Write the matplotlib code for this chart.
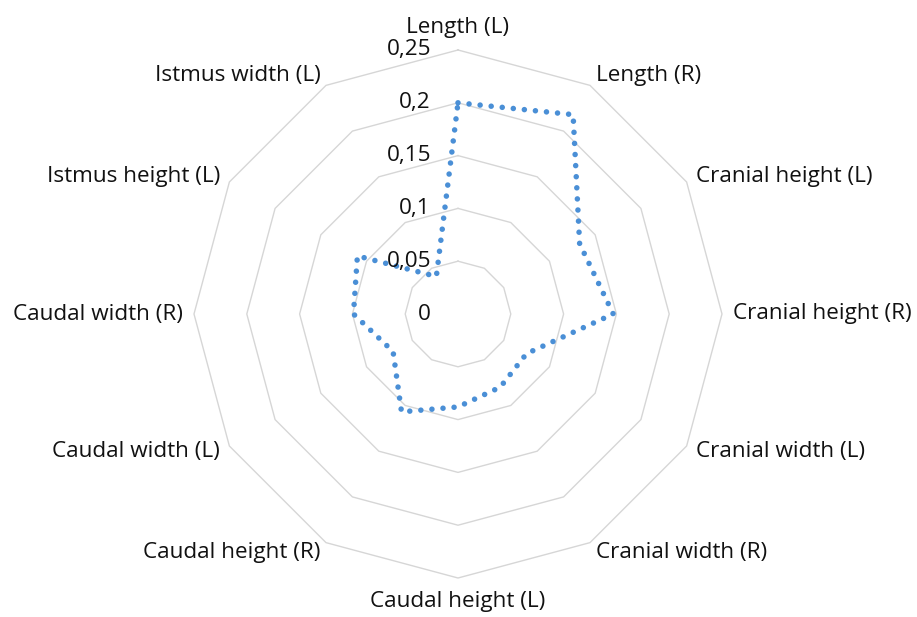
import numpy as np
import matplotlib
matplotlib.use("Agg")
import matplotlib.pyplot as plt

categories = ["Length (L)", "Length (R)", "Cranial height (L)", "Cranial height (R)",
              "Cranial width (L)", "Cranial width (R)", "Caudal height (L)", "Caudal height (R)",
              "Caudal width (L)", "Caudal width (R)", "Istmus height (L)", "Istmus width (L)"]
values = [0.200, 0.218, 0.133, 0.147, 0.075, 0.080, 0.088, 0.107, 0.071, 0.099, 0.110, 0.041]
ring_values = [0.05, 0.10, 0.15, 0.20, 0.25]
tick_values = [0, 0.05, 0.10, 0.15, 0.20, 0.25]
tick_labels = ["0", "0,05", "0,1", "0,15", "0,2", "0,25"]

W, H, DPI = 917, 617, 100
PX = 264 / 0.25          # pixels per data unit
CX, CY = 458, 314        # center in pixels (from top-left)

fig = plt.figure(figsize=(W / DPI, H / DPI), dpi=DPI)
ax = fig.add_axes([0, 0, 1, 1])
ax.set_xlim(-CX / PX, (W - CX) / PX)
ax.set_ylim(-(H - CY) / PX, CY / PX)
ax.axis("off")

FONT = "Open Sans"
FS = 16.2
TXT = "#111111"
n = len(categories)
theta = np.arange(n) * 2 * np.pi / n   # clockwise from top
sx, sy = np.sin(theta), np.cos(theta)

# rings
for rv in ring_values:
    xs = np.append(rv * sx, rv * sx[0])
    ys = np.append(rv * sy, rv * sy[0])
    ax.plot(xs, ys, color="#D6D6D6", lw=1.0, zorder=1)

# data
v = np.array(values)
xs = np.append(v * sx, v[0] * sx[0])
ys = np.append(v * sy, v[0] * sy[0])
ax.plot(xs, ys, color="#4A8FD6", lw=4.0, linestyle=(0, (0.001, 2.0)),
        dash_capstyle="round", solid_capstyle="round", zorder=3)

# tick labels
for tv, tl in zip(tick_values, tick_labels):
    ax.annotate(tl, xy=(0, tv), xytext=(-27, 0), textcoords="offset pixels",
                ha="right", va="center", fontsize=FS, family=FONT, color=TXT, zorder=4)

# category labels
R = ring_values[-1]
for i, cat in enumerate(categories):
    x, y = R * sx[i], R * sy[i]
    deg = np.degrees(theta[i])
    if np.isclose(deg, 0):
        ha, va, off = "center", "bottom", (0, 12)
    elif np.isclose(deg, 180):
        ha, va, off = "center", "top", (0, -13)
    else:
        ha = "left" if deg < 180 else "right"
        va = "center"
        off = (11 * sx[i], 11 * sy[i])
    ax.annotate(cat, xy=(x, y), xytext=off, textcoords="offset pixels",
                ha=ha, va=va, fontsize=FS, family=FONT, color=TXT)

fig.savefig("out.png", dpi=DPI)
